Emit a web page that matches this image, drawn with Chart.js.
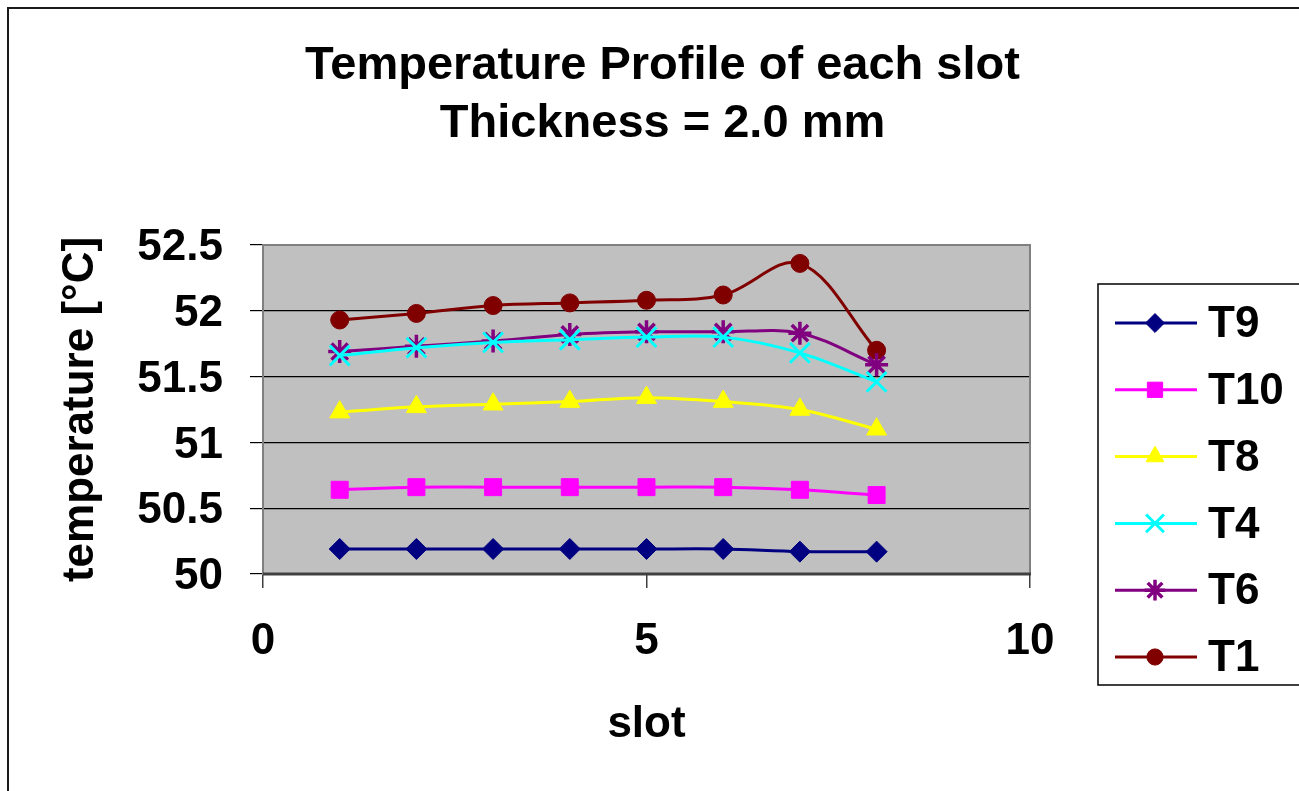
<!DOCTYPE html>
<html>
<head>
<meta charset="utf-8">
<script src="https://cdn.jsdelivr.net/npm/chart.js@4/dist/chart.umd.min.js"></script>
<style>
  html, body { margin: 0; padding: 0; background: #fff; }
  #wrap { width: 1299px; height: 791px; }
</style>
</head>
<body>
<div id="wrap"><canvas id="c" width="1299" height="791"></canvas></div>
<script>
// ---- data ----
const slots = [1, 2, 3, 4, 5, 6, 7, 8];
const T9  = [50.19, 50.19, 50.19, 50.19, 50.19, 50.19, 50.17, 50.17];
const T10 = [50.64, 50.66, 50.66, 50.66, 50.66, 50.66, 50.64, 50.60];
const T8  = [51.23, 51.27, 51.29, 51.31, 51.34, 51.31, 51.25, 51.10];
const T4  = [51.66, 51.72, 51.76, 51.78, 51.80, 51.80, 51.68, 51.46];
const T6  = [51.69, 51.73, 51.77, 51.82, 51.84, 51.84, 51.83, 51.59];
const T1  = [51.93, 51.98, 52.04, 52.06, 52.08, 52.12, 52.36, 51.70];
const seriesNames = ['T9', 'T10', 'T8', 'T4', 'T6', 'T1'];
const xTickValues = [0, 5, 10];
const yTickValues = [50, 50.5, 51, 51.5, 52, 52.5];
const yTickLabels = ['50', '50.5', '51', '51.5', '52', '52.5'];
const titleLines = ['Temperature Profile of each slot', 'Thickness = 2.0 mm'];
const xAxisTitle = 'slot';
const yAxisTitle = 'temperature [°C]';

const FONT = '"Liberation Sans", Arial, Helvetica, sans-serif';
Chart.defaults.font.family = FONT;
Chart.defaults.color = '#000';

const styles = [
  { color: '#000080', pointStyle: 'rectRot',  radius: 10.5, bw: 1 },
  { color: '#FF00FF', pointStyle: 'rect',     radius: 12,   bw: 1 },
  { color: '#FFFF00', pointStyle: 'triangle', radius: 11.5, bw: 1 },
  { color: '#00FFFF', pointStyle: 'crossRot', radius: 14,   bw: 3 },
  { color: '#800080', pointStyle: 'star',     radius: 11.5, bw: 3.5 },
  { color: '#800000', pointStyle: 'circle',   radius: 9,    bw: 1 }
];
const values = [T9, T10, T8, T4, T6, T1];

const datasets = values.map((vals, i) => ({
  label: seriesNames[i],
  data: slots.map((s, k) => ({ x: s, y: vals[k] })),
  xAxisID: 'x',
  yAxisID: 'y',
  borderColor: styles[i].color,
  backgroundColor: styles[i].color,
  borderWidth: 3,
  pointStyle: styles[i].pointStyle,
  pointRadius: styles[i].radius,
  pointHoverRadius: styles[i].radius,
  pointBorderWidth: styles[i].bw,
  pointBackgroundColor: styles[i].color,
  pointBorderColor: styles[i].color,
  tension: 0.35,
  clip: false
}));

const decor = {
  id: 'decor',
  beforeDraw(chart) {
    const { ctx, chartArea: a } = chart;
    ctx.save();
    ctx.fillStyle = '#fff';
    ctx.fillRect(0, 0, chart.width, chart.height);
    ctx.fillStyle = '#C0C0C0';
    ctx.fillRect(a.left, a.top, a.right - a.left, a.bottom - a.top);
    ctx.strokeStyle = '#1a1a1a';
    ctx.lineWidth = 2;
    ctx.beginPath();
    ctx.moveTo(8, chart.height + 2);
    ctx.lineTo(8, 8);
    ctx.lineTo(chart.width + 2, 8);
    ctx.stroke();
    ctx.restore();
  },
  beforeDatasetsDraw(chart) {
    const { ctx, chartArea: a } = chart;
    ctx.save();
    ctx.strokeStyle = '#808080';
    ctx.lineWidth = 2;
    ctx.strokeRect(a.left, a.top, a.right - a.left, a.bottom - a.top);
    ctx.strokeStyle = '#404040';
    ctx.lineWidth = 3;
    ctx.beginPath();
    ctx.moveTo(a.left, a.bottom);
    ctx.lineTo(a.right + 1, a.bottom);
    ctx.stroke();
    ctx.restore();
  },
  afterDraw(chart) {
    const { ctx } = chart;
    const boxL = 1098, boxT = 284, boxB = 685;
    ctx.save();
    ctx.strokeStyle = '#000';
    ctx.lineWidth = 1.5;
    ctx.strokeRect(boxL, boxT, chart.width + 10 - boxL, boxB - boxT);
    chart.data.datasets.forEach((ds, i) => {
      const y = 323 + i * 66.8;
      ctx.strokeStyle = ds.borderColor;
      ctx.lineWidth = 3;
      ctx.beginPath();
      ctx.moveTo(1115, y);
      ctx.lineTo(1197, y);
      ctx.stroke();
      ctx.fillStyle = ds.pointBackgroundColor;
      ctx.strokeStyle = ds.pointBorderColor;
      ctx.lineWidth = ds.pointBorderWidth;
      Chart.helpers.drawPoint(ctx, {
        pointStyle: ds.pointStyle,
        radius: ds.pointRadius * 0.9,
        rotation: 0,
        borderWidth: ds.pointBorderWidth
      }, 1155, y);
      ctx.fillStyle = '#000';
      ctx.font = 'bold 44px ' + FONT;
      ctx.textAlign = 'left';
      ctx.textBaseline = 'middle';
      ctx.fillText(ds.label, 1208, y + 2);
    });
    ctx.restore();
  }
};

new Chart(document.getElementById('c'), {
  type: 'line',
  data: { datasets },
  plugins: [decor],
  options: {
    responsive: false,
    animation: false,
    devicePixelRatio: 1,
    layout: { padding: { left: 26, right: 0, top: 0, bottom: 0 } },
    plugins: {
      legend: { display: false },
      tooltip: { enabled: false },
      title: {
        display: true,
        text: titleLines,
        color: '#000',
        font: { size: 47, weight: 'bold', lineHeight: 1.234 },
        padding: { top: 37, bottom: 92 }
      }
    },
    scales: {
      x: {
        type: 'linear',
        position: 'bottom',
        min: 0,
        max: 10,
        afterBuildTicks: s => { s.ticks = xTickValues.map(v => ({ value: v })); },
        afterFit: s => { s.height = 791 - 574; },
        ticks: {
          font: { size: 44, weight: 'bold' },
          color: '#000',
          padding: 27,
          maxRotation: 0,
          callback: v => String(v)
        },
        grid: {
          drawOnChartArea: false,
          drawTicks: true,
          tickLength: 14,
          color: '#404040',
          lineWidth: 1.5
        },
        border: { display: false },
        title: {
          display: true,
          text: xAxisTitle,
          color: '#000',
          font: { size: 44, weight: 'bold', lineHeight: 1.2 },
          padding: { top: 0, bottom: 40 }
        }
      },
      y: {
        type: 'linear',
        position: 'left',
        min: 50,
        max: 52.5,
        afterBuildTicks: s => { s.ticks = yTickValues.map(v => ({ value: v })); },
        afterFit: s => { s.width = 263 - 26; },
        ticks: {
          font: { size: 44, weight: 'bold' },
          color: '#000',
          padding: 27,
          labelOffset: 3,
          callback: v => yTickLabels[yTickValues.indexOf(v)]
        },
        grid: {
          drawTicks: true,
          tickLength: 13,
          color: c => (c.tick && (c.tick.value === 50 || c.tick.value === 52.5)) ? 'rgba(0,0,0,0)' : '#000',
          tickColor: '#000',
          lineWidth: 1.2
        },
        border: { display: false },
        title: {
          display: true,
          text: yAxisTitle,
          color: '#000',
          font: { size: 44, weight: 'bold', lineHeight: 1.2 },
          padding: { top: 28, bottom: 0 }
        }
      },
      legendSpace: {
        type: 'linear',
        position: 'right',
        display: true,
        afterFit: s => { s.width = 1299 - 1030; },
        ticks: { display: false },
        grid: { display: false },
        border: { display: false }
      }
    }
  }
});
</script>
</body>
</html>
